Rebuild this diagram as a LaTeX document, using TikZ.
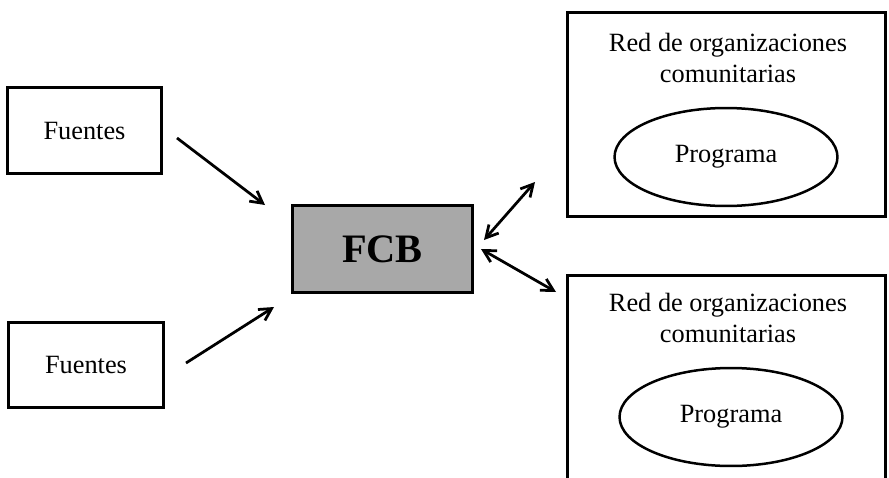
\documentclass[tikz,border=0pt]{standalone}
\usepackage{fontspec}
\setmainfont{Liberation Serif}
\usetikzlibrary{shapes,arrows.meta,positioning}
\definecolor{fcbgray}{RGB}{168,168,168}

\begin{document}
\begin{tikzpicture}[x=0.02cm, y=-0.02cm,
    txt/.style={font=\fontsize{15}{17}\selectfont, align=center},
    box/.style={draw, line width=0.06cm, minimum width=3.1cm, minimum height=1.72cm, txt},
    redbox/.style={draw, line width=0.06cm, minimum width=6.38cm, minimum height=4.1cm},
    prog/.style={draw, ellipse, line width=0.05cm, minimum width=4.46cm, minimum height=1.96cm, txt},
    link/.style={line width=0.055cm, -{Straight Barb[length=2.4mm, width=2.6mm]}},
    twolink/.style={line width=0.055cm, {Straight Barb[length=2.4mm, width=2.6mm]}-{Straight Barb[length=2.4mm, width=2.6mm]}}]
  \useasboundingbox (0,0) rectangle (889,477);
  \clip (0,0) rectangle (889,477);

  \node[box] (fuente1) at (84.5,130.5) {Fuentes};
  \node[box] (fuente2) at (86,365) {Fuentes};
  \node[box, fill=fcbgray, minimum width=3.62cm, minimum height=1.76cm,
        font=\fontsize{23}{26}\selectfont\bfseries] (fcb) at (382.5,249) {FCB};

  \node[redbox] (red1) at (726.5,114.5) {};
  \node[txt, font=\fontsize{15}{17.8}\selectfont] (red1title) at (728,58) {Red de organizaciones\\comunitarias};
  \node[prog] (prog1) at (726,157) {Programa};

  \node[redbox] (red2) at (726.5,377.5) {};
  \node[txt, font=\fontsize{15}{17.8}\selectfont] (red2title) at (728,318) {Red de organizaciones\\comunitarias};
  \node[prog] (prog2) at (731,417) {Programa};

  % arrow ends
  \coordinate (f1out) at (177,138);
  \coordinate (f1in) at (265,205);
  \coordinate (f2out) at (186,363);
  \coordinate (f2in) at (274,307);
  \coordinate (fcbtop) at (484,240);
  \coordinate (red1in) at (535,182);
  \coordinate (fcbbot) at (481,249);
  \coordinate (red2in) at (556,292);

  \draw[link] (f1out) -- (f1in);
  \draw[link] (f2out) -- (f2in);
  \draw[twolink] (fcbtop) -- (red1in);
  \draw[twolink] (fcbbot) -- (red2in);
\end{tikzpicture}
\end{document}
